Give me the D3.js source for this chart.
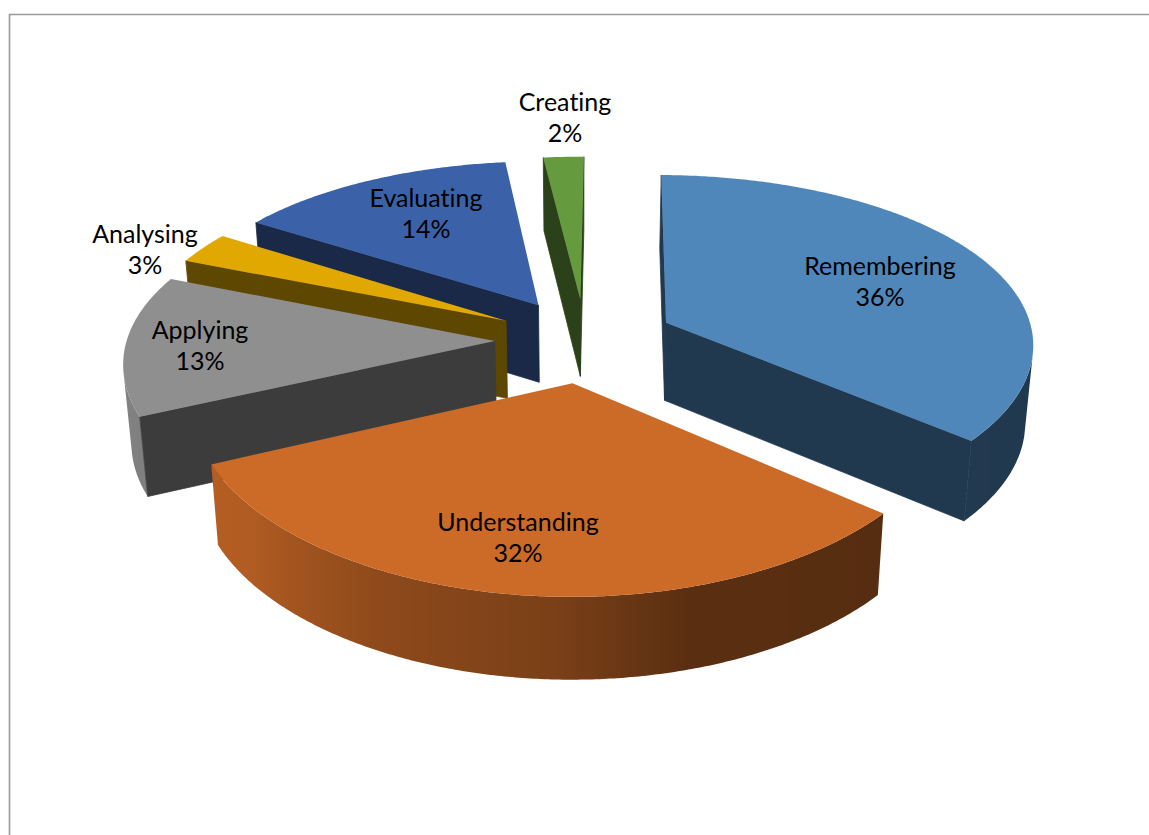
<!DOCTYPE html>
<html>
<head>
<meta charset="utf-8">
<script src="https://cdn.jsdelivr.net/npm/d3@7/dist/d3.min.js"></script>
<style>
  html, body { margin: 0; padding: 0; background: #fff; overflow: hidden; }
  svg { display: block; }
  text { font-family: Lato, "Noto Sans", sans-serif; font-size: 25px; fill: #000; font-variant-ligatures: none; }
</style>
</head>
<body>
<svg id="chart" width="1149" height="835"><defs></defs></svg>
<script>
// Bloom's taxonomy shares, drawn as an exploded pie in perspective.
const categories = ["Remembering", "Understanding", "Applying", "Analysing", "Evaluating", "Creating"];
const percents = [36, 32, 13, 3, 14, 2];
const topColours = ["#4f87ba", "#cc6a27", "#8f8f8f", "#e0a800", "#3b62a9", "#659b3e"];
const drawOrder = ["Creating", "Remembering", "Evaluating", "Analysing", "Applying", "Understanding"];
const labelCentres = [[880, 266.5], [518, 522.5], [200, 330.5], [145, 234.5], [426, 198.5], [565, 102.5]];

const width = 1149, height = 835;
const centre = { x: 585, y: 340 };     // pie axis on the top plane
const radius = 368;                    // horizontal radius at the pie's mid depth
const vertical = 172;                  // vertical radius at the pie's mid depth
const explode = 0.245;                 // slice offset, as a share of the radius
const vanishX = 582;
const persX = 0.11, persY = 0.135;     // foreshortening across the depth of the pie
const thickness = 78;
const lowerScale = 0.982;              // the lower face sits further from the eye
const firstSliceAngle = 0.6;           // degrees clockwise from twelve o'clock

const svg = d3.select("#chart");
const defs = svg.select("defs");

// Chart frame: only its top and left edges fall inside the page.
svg.append("path")
  .attr("d", d3.line()([[9.5, height], [9.5, 14.5], [width, 14.5]]))
  .attr("fill", "none").attr("stroke", "#9a9a9a").attr("stroke-width", 1.6);

// Maps a point of the unit pie plane to the page; X to the right, Y away from the eye.
function project(X, Y, lower) {
  const sx = 1 / (1 + persX * Y), sy = 1 / (1 + persY * Y);
  let x = vanishX + (centre.x - vanishX + X * radius) * sx;
  let y = centre.y - Y * vertical * sy;
  if (lower) {
    x = vanishX + (x - vanishX) * lowerScale;
    y += thickness * (1 - 0.05 * Y);
  }
  return [x, y];
}

const toRad = Math.PI / 180;
const pie = d3.pie().sort(null).value(d => d.percent)
  .startAngle(firstSliceAngle * toRad)
  .endAngle(2 * Math.PI + firstSliceAngle * toRad);
const slices = pie(categories.map((name, i) => ({
  name, percent: percents[i], colour: topColours[i], label: labelCentres[i]
})));

// Rim brightness by compass angle of the surface
const rimShade = d3.scaleLinear()
  .domain([90, 164, 182, 208, 231, 290])
  .range([0.41, 0.44, 0.6, 0.7, 0.86, 0.98])
  .clamp(true);
const shaded = (colour, k) => {
  const c = d3.rgb(colour);
  return d3.rgb(c.r * k, c.g * k, c.b * k).formatHex();
};
const polygon = d3.line();

drawOrder.forEach((name, order) => {
  const s = slices.find(d => d.data.name === name);
  const mid = (s.startAngle + s.endAngle) / 2;
  const ox = explode * Math.sin(mid), oy = explode * Math.cos(mid);
  const point = (a, r, lower) => project(ox + r * Math.sin(a), oy + r * Math.cos(a), lower);
  const colour = s.data.colour;
  const wall = shaded(colour, 0.42);
  const g = svg.append("g").attr("class", "slice");
  const step = 0.5 * toRad;
  const angles = d3.range(s.startAngle, s.endAngle, step).concat([s.endAngle]);

  // Outer rim: keep only the stretch of the curved side that faces the viewer
  const facing = angles.filter((a, i) => {
    const b = angles[i + 1];
    if (b === undefined) return false;
    return d3.polygonArea([point(a, 1), point(b, 1), point(b, 1, true), point(a, 1, true)]) > 0;
  });
  if (facing.length) {
    const arc = facing.concat([Math.min(facing[facing.length - 1] + step, s.endAngle)]);
    const xs = arc.map(a => point(a, 1)[0]);
    const [x0, x1] = d3.extent(xs);
    const id = "rim-" + order;
    const grad = defs.append("linearGradient").attr("id", id)
      .attr("gradientUnits", "userSpaceOnUse")
      .attr("x1", x0).attr("x2", x1).attr("y1", 0).attr("y2", 0);
    const stops = arc.map((a, i) => ({
      offset: x1 > x0 ? (xs[i] - x0) / (x1 - x0) : 0,
      colour: shaded(colour, rimShade(a / toRad))
    })).sort((p, q) => p.offset - q.offset);
    grad.selectAll("stop").data(stops).join("stop")
      .attr("offset", d => d.offset)
      .attr("stop-color", d => d.colour);
    g.append("path")
      .attr("d", polygon([...arc.map(a => point(a, 1)), ...arc.slice().reverse().map(a => point(a, 1, true))]) + "Z")
      .attr("fill", `url(#${id})`);
  }

  // Radial walls that turn toward the viewer; a hairline stroke closes the seam with the rim
  [[s.startAngle, 1], [s.endAngle, -1]].forEach(([a, sign]) => {
    const pts = [point(a, 0), point(a, 1), point(a, 1, true), point(a, 0, true)];
    if (d3.polygonArea(pts) * sign > 0) {
      g.append("path").attr("d", polygon(pts) + "Z")
        .attr("fill", wall).attr("stroke", wall).attr("stroke-width", 0.8);
    }
  });

  // Top face
  g.append("path")
    .attr("d", polygon([point(0, 0), ...angles.map(a => point(a, 1))]) + "Z")
    .attr("fill", colour);
});

// Category and share labels
const labels = svg.append("g").selectAll("text").data(slices).join("text")
  .attr("text-anchor", "middle")
  .attr("transform", d => `translate(${d.data.label[0]},${d.data.label[1]})`);
labels.append("tspan").attr("x", 0).attr("y", 8).text(d => d.data.name);
labels.append("tspan").attr("x", 0).attr("y", 39.5).text(d => d.data.percent + "%");
</script>
</body>
</html>
